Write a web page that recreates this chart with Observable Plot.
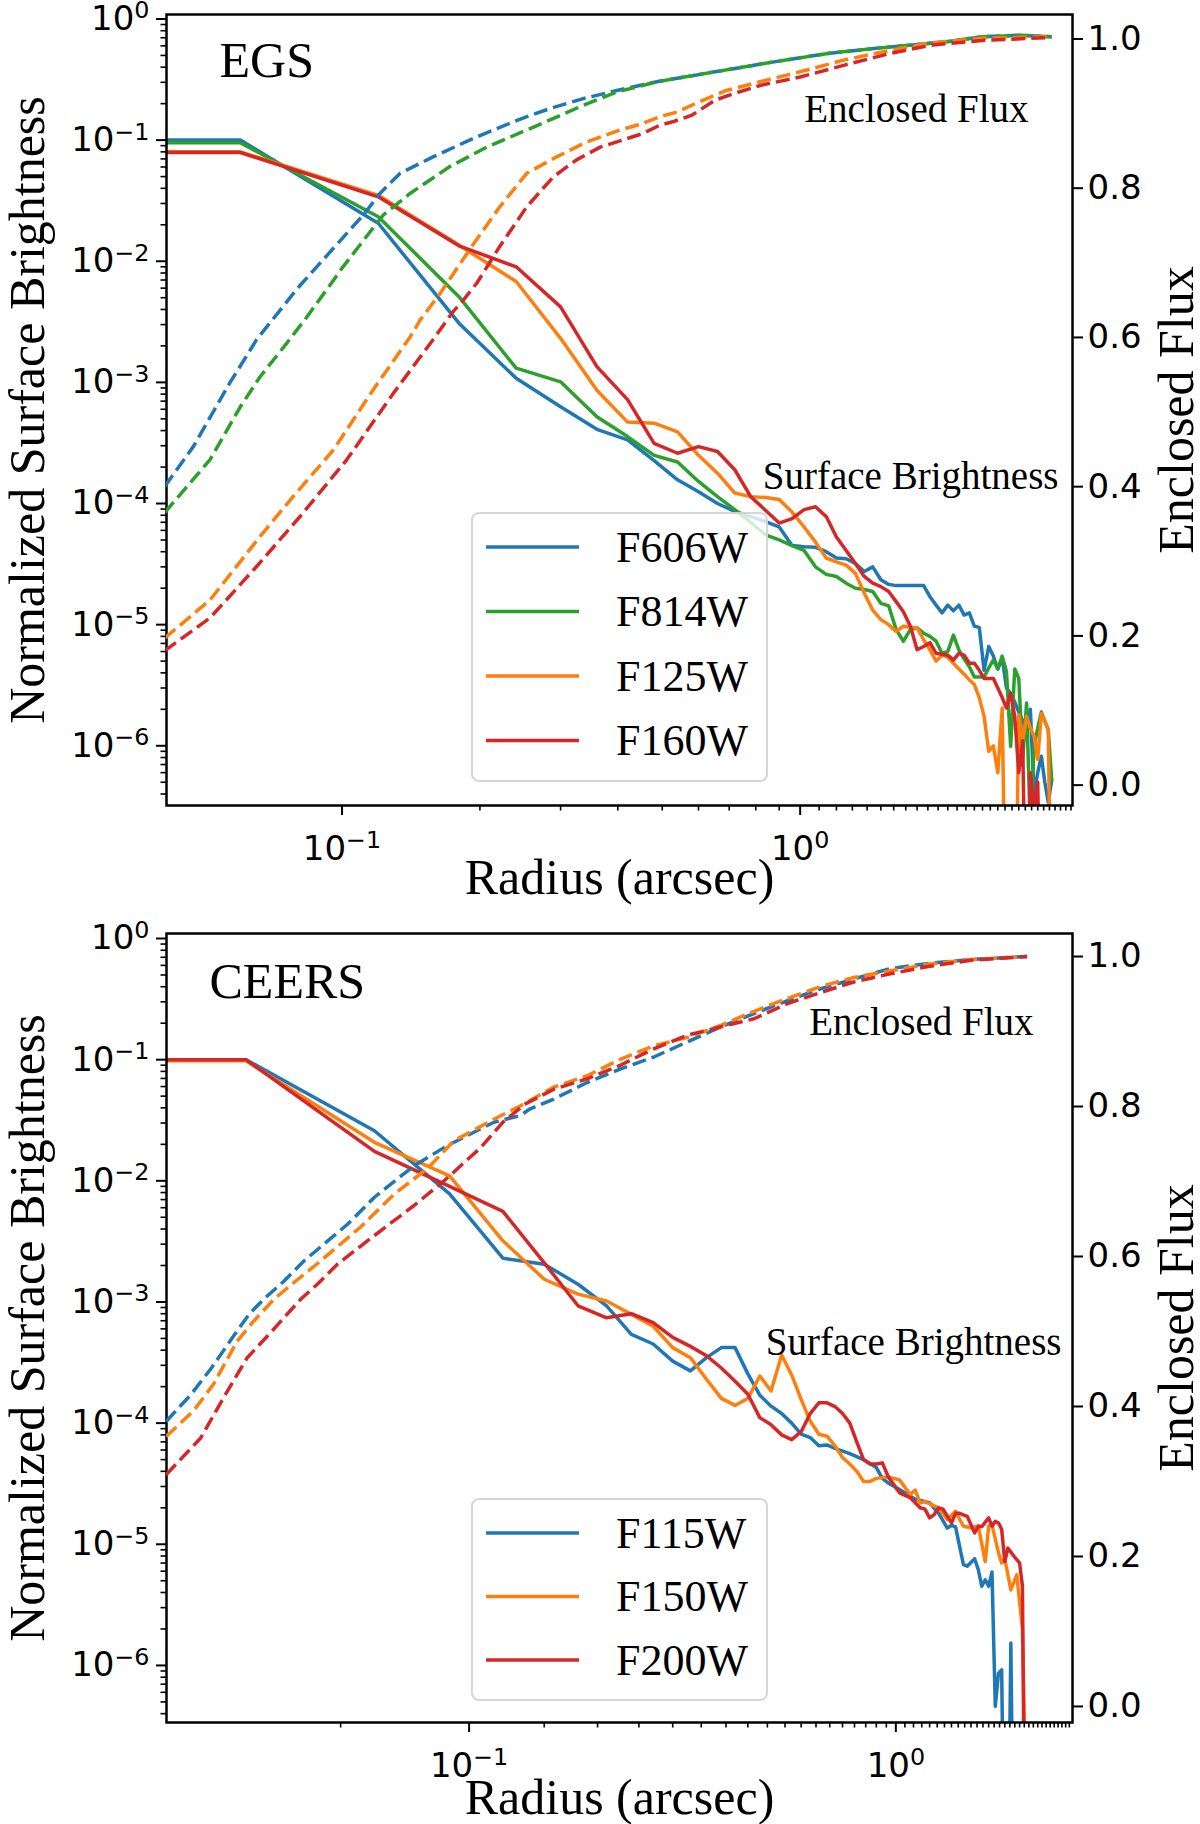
<!DOCTYPE html>
<html>
<head>
<meta charset="utf-8">
<script src="https://cdn.jsdelivr.net/npm/d3@7"></script>
<script src="https://cdn.jsdelivr.net/npm/@observablehq/plot@0.6"></script>
<style>
  body { margin: 0; background: #fff; }
  .panel { position: relative; width: 1200px; height: 912px; }
  .panel svg { position: absolute; left: 0; top: 0; overflow: visible; }
</style>
</head>
<body>
<div id="egs" class="panel"></div>
<div id="ceers" class="panel"></div>
<script>
// EGS (HST) profiles: [radius arcsec, value]
const egsFilters = ["F606W", "F814W", "F125W", "F160W"];
const egsColors = ["#1f77b4", "#2ca02c", "#ff7f0e", "#d62728"];

const egsF606W_sb = [[0.041,0.1],[0.06,0.1],[0.12,2.06e-2],[0.18,3.08e-3],[0.24,1.08e-3],[0.30,6.3e-4],[0.36,4.1e-4],[0.42,3.35e-4],[0.48,2.26e-4],[0.54,1.57e-4],[0.60,1.25e-4],[0.66,1.0e-4],[0.72,8.6e-5],[0.78,7.8e-5],[0.84,7.1e-5],[0.90,6.4e-5],[0.96,4.5e-5],[1.02,4.4e-5],[1.08,4.35e-5],[1.14,4.0e-5],[1.20,3.55e-5],[1.26,3.5e-5],[1.32,3.2e-5],[1.38,2.75e-5],[1.44,3.0e-5],[1.50,2.35e-5],[1.56,2.15e-5],[1.62,2.1e-5],[1.74,2.1e-5],[1.86,2.1e-5],[1.92,1.7e-5],[1.98,1.45e-5],[2.04,1.25e-5],[2.10,1.45e-5],[2.16,1.3e-5],[2.22,1.45e-5],[2.28,1.2e-5],[2.34,1.25e-5],[2.40,9.7e-6],[2.46,9.5e-6],[2.52,4.2e-6],[2.58,6.6e-6],[2.64,5.5e-6],[2.70,4.3e-6],[2.76,5.3e-6],[2.82,3.0e-6],[2.88,2.7e-6],[2.94,2.3e-6],[3.00,1.9e-6],[3.06,1.6e-6],[3.12,1.35e-6],[3.18,2.0e-6],[3.24,4e-7],[3.30,6e-7],[3.36,8.2e-7],[3.42,5e-7],[3.48,3.4e-7],[3.54,5.2e-7]];
const egsF814W_sb = [[0.041,0.095],[0.06,0.095],[0.12,2.33e-2],[0.18,5.1e-3],[0.24,1.31e-3],[0.30,1.01e-3],[0.36,5.2e-4],[0.42,3.57e-4],[0.48,2.5e-4],[0.54,2.2e-4],[0.60,1.52e-4],[0.66,1.14e-4],[0.72,8.9e-5],[0.78,7.0e-5],[0.84,5.5e-5],[0.90,5.0e-5],[0.96,4.5e-5],[1.02,4.1e-5],[1.08,3.0e-5],[1.14,2.6e-5],[1.20,2.5e-5],[1.26,2.2e-5],[1.32,2.0e-5],[1.38,1.95e-5],[1.44,1.88e-5],[1.50,1.5e-5],[1.56,1.43e-5],[1.62,9.1e-6],[1.68,7.3e-6],[1.74,9.1e-6],[1.80,9.4e-6],[1.86,8.5e-6],[1.92,8.0e-6],[1.98,7.3e-6],[2.04,5.8e-6],[2.10,6.0e-6],[2.16,8.2e-6],[2.22,6.2e-6],[2.28,5.2e-6],[2.34,4.5e-6],[2.40,3.7e-6],[2.52,3.7e-6],[2.58,4.4e-6],[2.64,5.1e-6],[2.70,4.3e-6],[2.76,5.5e-6],[2.82,4.1e-6],[2.88,9.9e-7],[2.94,4.3e-6],[3.00,3.6e-6],[3.06,7.7e-7],[3.12,2.25e-6],[3.18,2e-7],[3.24,1.0e-6],[3.30,1.4e-6],[3.36,1.9e-6],[3.42,1.6e-6],[3.48,1.35e-6],[3.54,5.2e-7]];
const egsF125W_sb = [[0.041,0.08],[0.06,0.08],[0.12,3.5e-2],[0.18,1.36e-2],[0.24,6.8e-3],[0.30,2.31e-3],[0.36,8.6e-4],[0.42,4.7e-4],[0.48,4.6e-4],[0.54,3.9e-4],[0.60,2.5e-4],[0.66,1.78e-4],[0.72,1.22e-4],[0.78,1.14e-4],[0.84,1.12e-4],[0.90,1.08e-4],[0.96,8.5e-5],[1.02,6.4e-5],[1.08,4.8e-5],[1.14,3.55e-5],[1.20,3.3e-5],[1.26,3.1e-5],[1.32,2.65e-5],[1.38,1.82e-5],[1.44,1.32e-5],[1.50,1.1e-5],[1.56,1.0e-5],[1.62,8.8e-6],[1.68,9.7e-6],[1.74,9.5e-6],[1.80,9.4e-6],[1.86,7.5e-6],[1.92,6.2e-6],[1.98,5.0e-6],[2.04,5.6e-6],[2.10,5.4e-6],[2.16,4.8e-6],[2.22,4.3e-6],[2.28,3.9e-6],[2.34,3.5e-6],[2.40,3.2e-6],[2.46,2.5e-6],[2.52,1.75e-6],[2.58,9e-7],[2.64,1.0e-6],[2.70,6e-7],[2.76,2.05e-6],[2.82,1e-8],[2.88,1e-8],[2.94,1e-8],[3.00,1.8e-6],[3.06,1.1e-6],[3.12,1.75e-6],[3.18,1.4e-6],[3.24,1.2e-6],[3.30,7.7e-7],[3.36,1.85e-6],[3.42,1.6e-6],[3.48,1.35e-6],[3.54,1e-8]];
const egsF160W_sb = [[0.041,0.079],[0.06,0.079],[0.12,3.4e-2],[0.18,1.34e-2],[0.24,9.0e-3],[0.30,4.2e-3],[0.36,1.35e-3],[0.42,7.2e-4],[0.48,3.14e-4],[0.54,2.6e-4],[0.60,2.95e-4],[0.66,2.69e-4],[0.72,1.9e-4],[0.78,1.14e-4],[0.84,8.8e-5],[0.90,6.9e-5],[0.96,7.5e-5],[1.02,8.9e-5],[1.08,9.4e-5],[1.14,7.8e-5],[1.20,5.3e-5],[1.26,4.1e-5],[1.32,3.2e-5],[1.38,2.5e-5],[1.44,2.2e-5],[1.50,2.06e-5],[1.56,1.88e-5],[1.62,1.55e-5],[1.68,1.28e-5],[1.74,9.7e-6],[1.80,6.2e-6],[1.86,6.6e-6],[1.92,7.1e-6],[1.98,5.8e-6],[2.04,5.7e-6],[2.10,5.6e-6],[2.16,5.1e-6],[2.22,5.8e-6],[2.28,5.6e-6],[2.34,4.8e-6],[2.40,4.8e-6],[2.46,4.2e-6],[2.52,3.6e-6],[2.64,3.6e-6],[2.70,3.0e-6],[2.76,2.5e-6],[2.82,2.05e-6],[2.88,2.7e-6],[2.94,1.75e-6],[3.00,6e-7],[3.06,1.1e-6],[3.12,1e-8],[3.18,6e-7],[3.24,3e-7],[3.30,5e-7],[3.36,1e-8]];

const egsF606W_flux = [[0.041,0.40],[0.0474,0.454],[0.0569,0.539],[0.0651,0.597],[0.08,0.666],[0.112,0.766],[0.121,0.793],[0.134,0.820],[0.158,0.842],[0.194,0.867],[0.241,0.891],[0.285,0.907],[0.336,0.920],[0.398,0.931],[0.49,0.943],[0.652,0.956],[0.87,0.969],[1.16,0.981],[1.55,0.989],[2.07,0.996],[2.5,1.003],[3.04,1.005],[3.54,1.003]];
const egsF814W_flux = [[0.041,0.365],[0.0515,0.436],[0.06,0.507],[0.0662,0.547],[0.0757,0.592],[0.0828,0.623],[0.0941,0.670],[0.1006,0.695],[0.123,0.764],[0.1408,0.793],[0.172,0.829],[0.207,0.855],[0.262,0.882],[0.336,0.911],[0.398,0.929],[0.49,0.943],[0.652,0.956],[0.87,0.969],[1.16,0.981],[1.55,0.989],[2.07,0.996],[2.5,1.003],[3.04,1.005],[3.54,1.003]];
const egsF125W_flux = [[0.041,0.197],[0.0515,0.248],[0.0662,0.333],[0.0783,0.387],[0.0957,0.449],[0.117,0.530],[0.141,0.601],[0.148,0.623],[0.1637,0.659],[0.194,0.726],[0.221,0.775],[0.253,0.820],[0.294,0.842],[0.342,0.862],[0.4045,0.878],[0.444,0.885],[0.4945,0.896],[0.538,0.902],[0.603,0.916],[0.69,0.931],[0.821,0.943],[1.0,0.956],[1.25,0.972],[1.58,0.985],[1.95,0.995],[2.5,1.001],[3.54,1.003]];
const egsF160W_flux = [[0.041,0.180],[0.0515,0.224],[0.0651,0.293],[0.081,0.360],[0.1024,0.436],[0.1294,0.525],[0.158,0.597],[0.175,0.635],[0.184,0.650],[0.197,0.673],[0.221,0.722],[0.253,0.775],[0.289,0.815],[0.325,0.838],[0.366,0.855],[0.452,0.873],[0.4945,0.8845],[0.527,0.889],[0.581,0.898],[0.652,0.918],[0.718,0.927],[0.821,0.938],[1.0,0.949],[1.25,0.965],[1.58,0.981],[1.95,0.992],[2.5,0.998],[3.54,1.002]];

// CEERS (JWST) profiles
const ceersFilters = ["F115W", "F150W", "F200W"];
const ceersColors = ["#1f77b4", "#ff7f0e", "#d62728"];

const ceersF115W_sb = [[0.0195,0.1],[0.03,0.1],[0.06,2.59e-2],[0.09,7.8e-3],[0.12,2.3e-3],[0.15,2.05e-3],[0.18,1.4e-3],[0.21,9.3e-4],[0.24,5.4e-4],[0.27,4.5e-4],[0.30,3.25e-4],[0.33,2.7e-4],[0.36,3.47e-4],[0.39,4.2e-4],[0.42,4.2e-4],[0.45,2.55e-4],[0.48,1.7e-4],[0.51,1.38e-4],[0.54,1.2e-4],[0.57,1.0e-4],[0.60,8.1e-5],[0.63,7.6e-5],[0.66,6.5e-5],[0.69,6.6e-5],[0.72,6.2e-5],[0.78,5.6e-5],[0.84,5.0e-5],[0.90,4.3e-5],[0.93,3.5e-5],[0.96,3.2e-5],[1.02,2.83e-5],[1.11,2.35e-5],[1.20,2.2e-5],[1.26,1.8e-5],[1.32,1.36e-5],[1.35,1.43e-5],[1.38,1.39e-5],[1.44,6.8e-6],[1.47,6.6e-6],[1.53,7.6e-6],[1.56,6.2e-6],[1.59,4.5e-6],[1.62,5.1e-6],[1.65,4.5e-6],[1.68,5.9e-6],[1.71,4.6e-7],[1.74,8.6e-7],[1.77,9.2e-7],[1.80,1e-8],[1.83,1e-8],[1.86,1.53e-6],[1.89,1e-8]];
const ceersF150W_sb = [[0.0195,0.098],[0.03,0.098],[0.06,2.08e-2],[0.09,1.1e-2],[0.12,3.2e-3],[0.15,1.54e-3],[0.18,1.16e-3],[0.21,1.02e-3],[0.24,7.9e-4],[0.27,6.3e-4],[0.30,4.2e-4],[0.33,3.47e-4],[0.36,2.3e-4],[0.39,1.6e-4],[0.42,1.4e-4],[0.45,1.6e-4],[0.48,2.45e-4],[0.51,1.84e-4],[0.54,3.65e-4],[0.57,2.5e-4],[0.60,1.57e-4],[0.63,1.04e-4],[0.66,8.1e-5],[0.69,7.8e-5],[0.72,6.5e-5],[0.75,5.2e-5],[0.78,4.6e-5],[0.81,4.0e-5],[0.84,3.3e-5],[0.87,3.3e-5],[0.90,3.5e-5],[0.96,3.6e-5],[1.02,3.4e-5],[1.08,2.58e-5],[1.11,2.8e-5],[1.14,2.2e-5],[1.17,2.25e-5],[1.26,2.0e-5],[1.32,1.6e-5],[1.38,1.87e-5],[1.44,1.41e-5],[1.50,1.37e-5],[1.56,1.42e-5],[1.62,7.2e-6],[1.65,1.41e-5],[1.68,1.45e-5],[1.74,8.5e-6],[1.77,7.0e-6],[1.80,7.6e-6],[1.86,4.2e-6],[1.92,5.6e-6],[1.98,2.0e-6],[2.04,1e-8]];
const ceersF200W_sb = [[0.0195,0.1],[0.03,0.1],[0.06,1.75e-2],[0.09,9.0e-3],[0.12,5.6e-3],[0.15,2.1e-3],[0.18,9.3e-4],[0.21,7.4e-4],[0.24,8.0e-4],[0.27,6.75e-4],[0.30,5.1e-4],[0.33,4.3e-4],[0.36,3.6e-4],[0.39,2.85e-4],[0.42,2.22e-4],[0.45,1.73e-4],[0.48,1.11e-4],[0.51,9.7e-5],[0.54,8.0e-5],[0.57,7.3e-5],[0.60,8.5e-5],[0.63,1.2e-4],[0.66,1.47e-4],[0.69,1.47e-4],[0.72,1.37e-4],[0.75,1.2e-4],[0.78,1.0e-4],[0.81,7.0e-5],[0.84,5.0e-5],[0.87,4.6e-5],[0.90,4.6e-5],[0.93,4.7e-5],[0.96,3.6e-5],[1.02,2.66e-5],[1.08,2.43e-5],[1.14,2.0e-5],[1.17,1.95e-5],[1.20,1.65e-5],[1.23,1.76e-5],[1.26,2.0e-5],[1.29,1.95e-5],[1.35,1.5e-5],[1.38,1.8e-5],[1.41,1.8e-5],[1.47,1.7e-5],[1.53,1.24e-5],[1.56,1.41e-5],[1.59,1.4e-5],[1.65,1.65e-5],[1.68,1.41e-5],[1.71,1.55e-5],[1.74,1.5e-5],[1.77,1.33e-5],[1.80,7.2e-6],[1.83,9.3e-6],[1.89,8.0e-6],[1.95,7.0e-6],[1.98,4.5e-6],[2.01,1e-8]];

const ceersF115W_flux = [[0.0195,0.380],[0.0223,0.416],[0.0248,0.450],[0.0279,0.492],[0.0305,0.523],[0.033,0.543],[0.0368,0.567],[0.041,0.594],[0.0519,0.643],[0.06,0.679],[0.0743,0.721],[0.089,0.748],[0.1143,0.779],[0.132,0.788],[0.139,0.797],[0.158,0.81],[0.189,0.832],[0.226,0.85],[0.271,0.866],[0.324,0.886],[0.388,0.906],[0.465,0.924],[0.556,0.941],[0.666,0.957],[0.797,0.970],[0.971,0.984],[1.2,0.991],[1.5,0.996],[2.03,1.0]];
const ceersF150W_flux = [[0.0195,0.360],[0.0226,0.394],[0.0252,0.430],[0.0286,0.487],[0.0313,0.514],[0.0349,0.543],[0.0388,0.565],[0.044,0.59],[0.0556,0.639],[0.0667,0.683],[0.0798,0.717],[0.092,0.754],[0.1143,0.783],[0.132,0.801],[0.158,0.826],[0.189,0.841],[0.226,0.863],[0.271,0.881],[0.324,0.892],[0.388,0.908],[0.465,0.927],[0.556,0.944],[0.666,0.96],[0.797,0.972],[0.971,0.981],[1.2,0.99],[1.5,0.996],[2.03,1.0]];
const ceersF200W_flux = [[0.0195,0.309],[0.0235,0.358],[0.0266,0.412],[0.0302,0.465],[0.0342,0.498],[0.0403,0.543],[0.0441,0.563],[0.0492,0.59],[0.06,0.628],[0.0743,0.668],[0.0874,0.701],[0.1064,0.745],[0.12,0.779],[0.135,0.803],[0.158,0.823],[0.189,0.837],[0.226,0.855],[0.271,0.877],[0.324,0.895],[0.388,0.906],[0.465,0.917],[0.556,0.937],[0.666,0.952],[0.797,0.966],[0.971,0.977],[1.2,0.987],[1.5,0.995],[2.03,1.0]];

const fluxTicks = [0, 0.2, 0.4, 0.6, 0.8, 1.0];

const serif = "Liberation Serif";
const tickFont = 34;
const pow10 = (d) => "10^" + Math.round(Math.log10(d));
const isPow10 = (d) => Math.abs(Math.log10(d) - Math.round(Math.log10(d))) < 1e-9;

function logTicks(domain) {
  const all = d3.scaleLog().domain(domain).ticks(40);
  return [all.filter(isPow10), all.filter((d) => !isPow10(d))];
}

// turn "10^-1" tick labels into a raised, smaller exponent like mathtext
function superscripts(svg) {
  d3.select(svg).selectAll("text").each(function () {
    const m = /^10\^(-?\d+)$/.exec(this.textContent);
    if (!m) return;
    const t = d3.select(this).text("10");
    t.append("tspan").attr("dy", "-0.48em").attr("font-size", "0.7em").text(m[1].replace("-", "\u2212"));
  });
}

function drawPanel(el, cfg) {
  const W = 1200, H = 912;
  const margins = {marginLeft: 166, marginRight: 128, marginTop: cfg.top, marginBottom: cfg.bottom};
  const [xMajor, xMinor] = logTicks(cfg.xDomain);
  const [yMajor, yMinor] = logTicks(cfg.yDomain);
  const txt = {text: (d) => d, fontFamily: serif, lineAnchor: "middle"};

  const base = Plot.plot({
    width: W, height: H, ...margins,
    style: {fontFamily: "DejaVu Sans", background: "transparent", color: "black"},
    x: {type: "log", domain: cfg.xDomain, axis: null},
    y: {type: "log", domain: cfg.yDomain, axis: null},
    marks: [
      ...cfg.sb.map((s, i) => Plot.line(s, {x: (d) => d[0], y: (d) => d[1], stroke: cfg.colors[i], strokeWidth: 3.5, clip: true})),
      Plot.axisX(xMinor, {tickSize: 5.5, strokeWidth: 1.6, tickFormat: () => "", label: null}),
      Plot.axisX(xMajor, {tickSize: 10, strokeWidth: 2, tickPadding: cfg.xTickPad, tickFormat: pow10, fontSize: tickFont, label: null}),
      Plot.axisY(yMinor, {tickSize: 5.5, strokeWidth: 1.6, tickFormat: () => "", label: null}),
      Plot.axisY(yMajor, {tickSize: 10, strokeWidth: 2, tickPadding: 7, tickFormat: pow10, fontSize: tickFont, label: null}),
      Plot.frame({stroke: "black", strokeWidth: 2.5}),
      Plot.text([cfg.tag], {...txt, frameAnchor: "top-left", dx: cfg.tagDx, dy: cfg.tagDy, textAnchor: "start", fontSize: 50}),
      Plot.text(["Enclosed Flux"], {...txt, frameAnchor: "top-right", dx: cfg.efDx, dy: cfg.efDy, textAnchor: "end", fontSize: 39}),
      Plot.text(["Surface Brightness"], {...txt, frameAnchor: "top-right", dx: cfg.sbDx, dy: cfg.sbDy, textAnchor: "end", fontSize: 39}),
      Plot.text(["Normalized Surface Brightness"], {...txt, frameAnchor: "left", dx: -139, rotate: -90, textAnchor: "middle", fontSize: 50}),
      Plot.text(["Radius (arcsec)"], {...txt, frameAnchor: "bottom", dy: cfg.xLabelDy, textAnchor: "middle", fontSize: 50})
    ]
  });
  superscripts(base);

  // enclosed flux lives on its own linear axis, laid over the same frame
  const over = Plot.plot({
    width: W, height: H, ...margins,
    style: {fontFamily: "DejaVu Sans", background: "transparent", color: "black"},
    x: {type: "log", domain: cfg.xDomain, axis: null},
    y: {domain: cfg.fDomain, axis: null},
    marks: [
      ...cfg.flux.map((s, i) => Plot.line(s, {x: (d) => d[0], y: (d) => d[1], stroke: cfg.colors[i], strokeWidth: 3.5, strokeDasharray: "14,6", strokeLinecap: "butt", clip: true})),
      Plot.axisY(fluxTicks, {anchor: "right", tickSize: 10, strokeWidth: 2, tickPadding: 5, tickFormat: d3.format(".1f"), fontSize: tickFont, label: null}),
      Plot.text(["Enclosed Flux"], {...txt, frameAnchor: "right", dx: 104, rotate: -90, textAnchor: "middle", fontSize: 50})
    ]
  });

  el.append(base);
  el.append(over);
  drawLegend(el, cfg.legend, cfg.names, cfg.colors);
}

function drawLegend(el, box, names, colors) {
  const div = d3.select(el).append("div")
    .style("position", "absolute")
    .style("left", box.x + "px")
    .style("top", box.y + "px")
    .style("width", box.w + "px")
    .style("height", box.h + "px")
    .style("box-sizing", "border-box")
    .style("border", "2px solid rgba(204,204,204,0.8)")
    .style("border-radius", "8px")
    .style("background", "rgba(255,255,255,0.8)");
  const svg = div.append("svg").attr("width", box.w - 4).attr("height", box.h - 4);
  const row = svg.selectAll("g").data(names).join("g")
    .attr("transform", (d, i) => `translate(0,${box.first - 2 + i * box.gap})`);
  row.append("line").attr("x1", 13).attr("x2", 106)
    .attr("stroke", (d, i) => colors[i]).attr("stroke-width", 3.5);
  row.append("text").attr("x", 143).attr("dy", "0.34em")
    .attr("font-family", serif).attr("font-size", 44).text((d) => d);
}

drawPanel(document.querySelector("#egs"), {
  top: 14, bottom: 107,
  xDomain: [0.0414, 3.93],
  yDomain: [Math.pow(10, -6.493), Math.pow(10, 0.037)],
  fDomain: [-0.0273, 1.0328],
  sb: [egsF606W_sb, egsF814W_sb, egsF125W_sb, egsF160W_sb],
  flux: [egsF606W_flux, egsF814W_flux, egsF125W_flux, egsF160W_flux],
  names: egsFilters, colors: egsColors,
  tag: "EGS", tagDx: 53, tagDy: 46,
  efDx: -44, efDy: 95, sbDx: -14, sbDy: 462,
  xTickPad: 20, xLabelDy: 72,
  legend: {x: 471, y: 512, w: 297, h: 270, first: 35, gap: 64.5}
});

drawPanel(document.querySelector("#ceers"), {
  top: 21, bottom: 102,
  xDomain: [0.01954, 2.594],
  yDomain: [Math.pow(10, -6.471), Math.pow(10, 0.0413)],
  fDomain: [-0.0214, 1.0307],
  sb: [ceersF115W_sb, ceersF150W_sb, ceersF200W_sb],
  flux: [ceersF115W_flux, ceersF150W_flux, ceersF200W_flux],
  names: ceersFilters, colors: ceersColors,
  tag: "CEERS", tagDx: 43, tagDy: 48,
  efDx: -39, efDy: 89, sbDx: -11, sbDy: 409,
  xTickPad: 20, xLabelDy: 75,
  legend: {x: 471, y: 586, w: 297, h: 203, first: 35, gap: 63.5}
});
</script>
</body>
</html>
